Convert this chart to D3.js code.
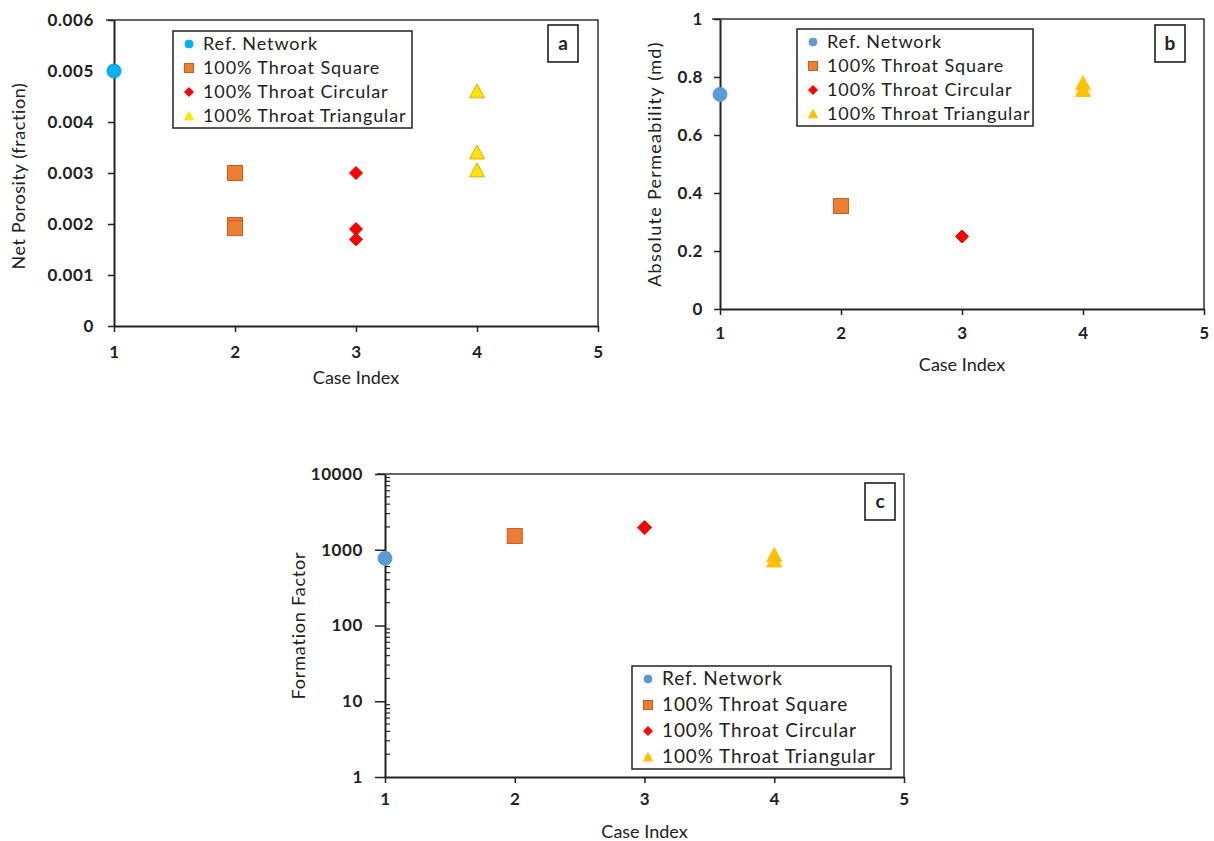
<!DOCTYPE html>
<html>
<head>
<meta charset="utf-8">
<script src="https://cdn.jsdelivr.net/npm/d3@7"></script>
<style>
  body { margin: 0; background: #fff; }
  svg { display: block; }
  text { font-family: Lato, "Open Sans", sans-serif; fill: #222; }
</style>
</head>
<body>
<div id="chart"></div>
<script>
const width = 1214;
const height = 841;

// series names, same in every panel
const seriesNames = ["Ref. Network", "100% Throat Square", "100% Throat Circular", "100% Throat Triangular"];
const caseTicks = [1, 2, 3, 4, 5];

// panel a: net porosity, [case, value]
const porosityRef = [[1, 0.005]];
const porositySquare = [[2, 0.003], [2, 0.00198], [2, 0.00192]];
const porosityCircular = [[3, 0.003], [3, 0.0019], [3, 0.0017]];
const porosityTriangular = [[4, 0.0046], [4, 0.0034], [4, 0.00305]];
const porosityTicks = [0, 0.001, 0.002, 0.003, 0.004, 0.005, 0.006];

// panel b: absolute permeability (md)
const permRef = [[1, 0.74]];
const permSquare = [[2, 0.355]];
const permCircular = [[3, 0.25]];
const permTriangular = [[4, 0.778], [4, 0.755]];
const permTicks = [0, 0.2, 0.4, 0.6, 0.8, 1];

// panel c: formation factor (log)
const ffRef = [[1, 770]];
const ffSquare = [[2, 1520]];
const ffCircular = [[3, 1960]];
const ffTriangular = [[4, 850], [4, 720]];
const ffTicks = [1, 10, 100, 1000, 10000];

const svg = d3.select("#chart").append("svg")
  .attr("width", width)
  .attr("height", height);

// marker drawing: kind 0 circle, 1 square, 2 diamond, 3 triangle
function marker(g, kind, x, y, s, fill, stroke) {
  let m;
  if (kind === 0) {
    m = g.append("circle").attr("cx", x).attr("cy", y).attr("r", s / 2);
  } else if (kind === 1) {
    m = g.append("rect").attr("x", x - s / 2).attr("y", y - s / 2).attr("width", s).attr("height", s);
  } else if (kind === 2) {
    const h = s / 2;
    m = g.append("path").attr("d", `M${x},${y - h}L${x + h},${y}L${x},${y + h}L${x - h},${y}Z`);
  } else {
    const h = s / 2;
    m = g.append("path").attr("d", `M${x},${y - h}L${x + h},${y + h * 0.85}L${x - h},${y + h * 0.85}Z`);
  }
  m.attr("fill", fill).attr("stroke", stroke).attr("stroke-width", 1);
}

function drawPanel(p) {
  const g = svg.append("g");
  const x = d3.scaleLinear().domain([1, 5]).range(p.xRange);
  const y = p.log
    ? d3.scaleLog().domain([1, 10000]).range(p.yRange)
    : d3.scaleLinear().domain([0, p.yTicks[p.yTicks.length - 1]]).range(p.yRange);

  // frame (top and right)
  g.append("path")
    .attr("d", `M${p.xRange[0] - 8},${p.yRange[1]}H${p.xRange[1]}V${p.yRange[0]}`)
    .attr("fill", "none").attr("stroke", "#333").attr("stroke-width", 1.5);

  // minor log ticks
  if (p.log) {
    const minor = [];
    for (let d = 1; d < 10000; d *= 10) for (let k = 2; k < 10; k++) minor.push(d * k);
    g.selectAll(".minor").data(minor).enter().append("line")
      .attr("x1", p.xRange[0]).attr("x2", p.xRange[0] + 5)
      .attr("y1", d => y(d)).attr("y2", d => y(d))
      .attr("stroke", "#222").attr("stroke-width", 1.2);
  }

  const xAxis = g.append("g")
    .attr("transform", `translate(0,${p.yRange[0]})`)
    .call(d3.axisBottom(x).tickValues(caseTicks).tickFormat(d3.format("d"))
      .tickSize(6).tickSizeOuter(0).tickPadding(p.xPad));
  const yAxis = g.append("g")
    .attr("transform", `translate(${p.xRange[0]},0)`)
    .call(d3.axisLeft(y).tickValues(p.yTicks).tickFormat(p.fmt)
      .tickSize(p.log ? 10 : 6).tickSizeOuter(0).tickPadding(p.yPad));

  [xAxis, yAxis].forEach(a => {
    a.select(".domain").attr("stroke", "#222").attr("stroke-width", 2);
    a.selectAll(".tick line").attr("stroke", "#222").attr("stroke-width", 1.5);
    a.selectAll(".tick text")
      .style("font-family", "Lato, sans-serif")
      .style("font-size", "17px")
      .style("font-weight", "bold")
      .style("letter-spacing", "0.6px")
      .attr("fill", "#222");
  });

  // axis titles
  g.append("text")
    .attr("x", (p.xRange[0] + p.xRange[1]) / 2)
    .attr("y", p.xTitleY)
    .attr("text-anchor", "middle")
    .style("font-size", "18px")
    .text("Case Index");

  g.append("text")
    .attr("transform", `translate(${p.yTitleX},${(p.yRange[0] + p.yRange[1]) / 2 + p.yTitleShift}) rotate(-90)`)
    .attr("text-anchor", "middle")
    .style("font-size", "18px")
    .style("letter-spacing", p.yTitleSpacing)
    .text(p.yTitle);

  // points
  p.series.forEach((data, i) => {
    data.forEach(d => marker(g, i, x(d[0]), y(d[1]), p.sizes[i], p.fills[i], p.strokes[i]));
  });

  // panel letter box
  g.append("rect")
    .attr("x", p.letterBox[0]).attr("y", p.letterBox[1])
    .attr("width", 30).attr("height", 37)
    .attr("fill", "#fff").attr("stroke", "#111").attr("stroke-width", 1.5);
  g.append("text")
    .attr("x", p.letterBox[0] + 15).attr("y", p.letterBox[1] + 25)
    .attr("text-anchor", "middle")
    .style("font-size", "19px").style("font-weight", "bold")
    .attr("fill", "#000")
    .text(p.letter);

  // legend
  const lg = g.append("g").attr("transform", `translate(${p.legend[0]},${p.legend[1]})`);
  lg.append("rect")
    .attr("width", p.legend[2]).attr("height", p.legend[3])
    .attr("fill", "#fff").attr("stroke", "#222").attr("stroke-width", 1.5);
  seriesNames.forEach((name, i) => {
    const cy = 13 + i * p.legendStep;
    marker(lg, i, 16, cy, i === 0 ? 8 : 9, p.fills[i], i === 1 ? p.strokes[i] : p.fills[i]);
    lg.append("text")
      .attr("x", 30).attr("y", cy + 6)
      .style("font-size", p.legendFont)
      .style("letter-spacing", "0.9px")
      .attr("fill", "#1e1e28")
      .text(name);
  });
}

drawPanel({
  letter: "a",
  xRange: [114, 598], yRange: [326, 20],
  yTicks: porosityTicks, fmt: d => d === 0 ? "0" : d3.format(".3f")(d),
  xPad: 14, yPad: 14,
  xTitleY: 384, yTitleX: 25, yTitleShift: 3, yTitleSpacing: "0.6px",
  yTitle: "Net Porosity (fraction)",
  series: [porosityRef, porositySquare, porosityCircular, porosityTriangular],
  fills: ["#00b0f0", "#ed7d31", "#ff0000", "#ffe600"],
  strokes: ["#00a0e0", "#c9611e", "#e00000", "#f0a800"],
  sizes: [14, 15, 13, 15],
  letterBox: [548, 25], legend: [173, 31, 239, 97], legendStep: 24, legendFont: "18px"
});

drawPanel({
  letter: "b",
  xRange: [720, 1204], yRange: [309, 19],
  yTicks: permTicks, fmt: d3.format(""),
  xPad: 12, yPad: 11,
  xTitleY: 371, yTitleX: 661, yTitleShift: 0, yTitleSpacing: "1.3px",
  yTitle: "Absolute Permeability (md)",
  series: [permRef, permSquare, permCircular, permTriangular],
  fills: ["#5b9bd5", "#ed7d31", "#ff0000", "#ffc000"],
  strokes: ["#5b9bd5", "#c9611e", "#ff0000", "#ffc000"],
  sizes: [14, 15, 13, 15],
  letterBox: [1155, 25], legend: [797, 29, 236, 97], legendStep: 24, legendFont: "18px"
});

drawPanel({
  letter: "c",
  log: true,
  xRange: [385, 904], yRange: [777, 474],
  yTicks: ffTicks, fmt: d3.format("d"),
  xPad: 10, yPad: 12,
  xTitleY: 838, yTitleX: 305, yTitleShift: 0, yTitleSpacing: "0.8px",
  yTitle: "Formation Factor",
  series: [ffRef, ffSquare, ffCircular, ffTriangular],
  fills: ["#5b9bd5", "#ed7d31", "#ff0000", "#ffc000"],
  strokes: ["#5b9bd5", "#c9611e", "#ff0000", "#ffc000"],
  sizes: [14, 15, 14, 15],
  letterBox: [865, 483], legend: [632, 666, 259, 103], legendStep: 26, legendFont: "19px"
});
</script>
</body>
</html>
